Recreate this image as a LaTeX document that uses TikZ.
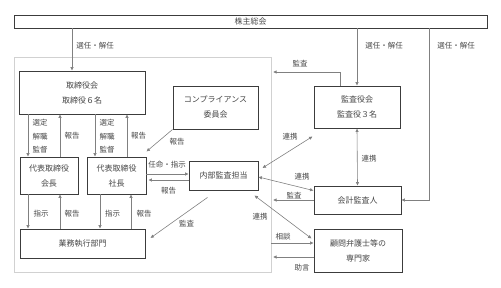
\documentclass[tikz,border=0pt]{standalone}
\usepackage{fontspec}
\newfontfamily\jpfont{Noto Sans CJK JP}
\usepackage{tikz}
\usetikzlibrary{positioning,arrows.meta,calc}
\definecolor{BoxLine}{RGB}{60,60,60}
\definecolor{ArrGray}{RGB}{128,128,128}
\definecolor{TxtGray}{RGB}{70,70,70}
\tikzset{
  org/.style={rectangle, draw=BoxLine, line width=0.9pt, fill=white, align=center,
    text=TxtGray, font=\jpfont\fontsize{8}{15}\selectfont, inner sep=0pt},
  lbl/.style={text=TxtGray, font=\jpfont\fontsize{7.5}{13.5}\selectfont, inner sep=0pt, align=center},
  arrow/.style={-{Latex[length=3.5pt,width=3.5pt]}, line width=0.6pt, draw=ArrGray},
  twoway/.style={{Latex[length=3.5pt,width=3.5pt]}-{Latex[length=3.5pt,width=3.5pt]}, line width=0.6pt, draw=ArrGray}
}

\begin{document}
\begin{tikzpicture}[x=1pt, y=-1pt,
    grpbox/.style={rectangle, draw=black!18, line width=0.6pt, minimum width=257pt,
      minimum height=215pt, inner sep=0pt}
  ]
  \useasboundingbox (0,0) rectangle (501,287);
  \node[grpbox] (grp) at (142.5,164.5) {};

  % boxes
  \node[org, minimum width=473pt, minimum height=13pt] (kabu) at (250.5,21.5) {株主総会};
  \node[org, minimum width=126pt, minimum height=43pt] (tori) at (82,92.5) {取締役会\\取締役６名};
  \node[org, minimum width=85pt, minimum height=43pt] (comp) at (215.5,107.5) {コンプライアンス\\委員会};
  \node[org, minimum width=58pt, minimum height=37pt] (kaicho) at (49,175.5) {代表取締役\\会長};
  \node[org, minimum width=59pt, minimum height=37pt] (shacho) at (116.5,175.5) {代表取締役\\社長};
  \node[org, minimum width=125pt, minimum height=29pt] (gyomu) at (82.5,243.5) {業務執行部門};
  \node[org, minimum width=69pt, minimum height=29pt] (naibu) at (223.5,175.5) {内部監査担当};
  \node[org, minimum width=86pt, minimum height=42pt] (kansa) at (357,107) {監査役会\\監査役３名};
  \node[org, minimum width=87pt, minimum height=28pt] (kaikei) at (357.5,200) {会計監査人};
  \node[org, minimum width=88pt, minimum height=43pt] (komon) at (358,250.5) {顧問弁護士等の\\専門家};

  \coordinate (audtop) at (273,72);
  \coordinate (ask) at ($(komon.west)+(0,-7.5)$);
  \coordinate (advice) at ($(komon.west)+(0,6.5)$);

  % shareholders
  \draw[arrow] ([xshift=-10pt]tori.north |- kabu.south) -- ([xshift=-10pt]tori.north);
  \draw[arrow] (kabu.south -| kansa.north) -- (kansa.north);
  \draw[arrow] ([xshift=72pt]kansa.north |- kabu.south) |- (kaikei.east);
  \node[lbl] at (95,46) {選任・解任};
  \node[lbl] at (384,46) {選任・解任};
  \node[lbl] at (456,46) {選任・解任};

  % board and representatives
  \draw[arrow] ([xshift=-21pt]kaicho.north |- tori.south) -- ([xshift=-21pt]kaicho.north);
  \draw[arrow] ([xshift=11pt]kaicho.north) -- ([xshift=11pt]kaicho.north |- tori.south);
  \draw[arrow] ([xshift=-21.5pt]shacho.north |- tori.south) -- ([xshift=-21.5pt]shacho.north);
  \draw[arrow] ([xshift=10.5pt]shacho.north) -- ([xshift=10.5pt]shacho.north |- tori.south);
  \node[lbl] at (40,136.5) {選定\\解職\\監督};
  \node[lbl] at (72,136) {報告};
  \node[lbl] at (107,136.5) {選定\\解職\\監督};
  \node[lbl] at (138.5,136) {報告};

  % representatives and business units
  \draw[arrow] ([xshift=-21pt]kaicho.south) -- ([xshift=-21pt]kaicho.south |- gyomu.north);
  \draw[arrow] ([xshift=11pt]kaicho.south |- gyomu.north) -- ([xshift=11pt]kaicho.south);
  \draw[arrow] ([xshift=-16.5pt]shacho.south) -- ([xshift=-16.5pt]shacho.south |- gyomu.north);
  \draw[arrow] ([xshift=14.5pt]shacho.south |- gyomu.north) -- ([xshift=14.5pt]shacho.south);
  \node[lbl] at (41,214) {指示};
  \node[lbl] at (72,214) {報告};
  \node[lbl] at (112.5,214) {指示};
  \node[lbl] at (144,214) {報告};

  % compliance and internal audit
  \draw[arrow] (comp.south west) -- ($(shacho.north east)+(0,-5)$);
  \node[lbl] at (177,142) {報告};
  \draw[arrow] ([yshift=1.5pt]shacho.east) -- ([yshift=1.5pt]naibu.west);
  \draw[arrow] ([yshift=-4.5pt]naibu.west) -- ([yshift=-4.5pt,xshift=2pt]shacho.east);
  \node[lbl] at (167,165) {任命・指示};
  \node[lbl] at (168.5,191) {報告};
  \draw[arrow] ($(naibu.south)+(-16,7)$) -- ($(gyomu.east)+(5,-5.5)$);
  \node[lbl] at (186.5,224) {監査};

  % auditors
  \draw[arrow] ([xshift=-17pt]kansa.north) |- (audtop);
  \node[lbl] at (300,64) {監査};
  \draw[twoway] (kansa.south) -- (kaikei.north);
  \node[lbl] at (369,159) {連携};
  \draw[arrow] (kaikei.west) -- (kaikei.west -| audtop);
  \node[lbl] at (294,196) {監査};
  \draw[twoway] ($(naibu.east)+(4,-7.5)$) -- ($(kansa.south west)+(-1,8)$);
  \node[lbl] at (290,137) {連携};
  \draw[twoway] ($(naibu.east)+(0,1.5)$) -- ($(kaikei.north west)+(0,5)$);
  \node[lbl] at (302,177) {連携};
  \draw[twoway] ($(naibu.south east)+(-4,5)$) -- ($(komon.north west)+(-2,10)$);
  \node[lbl] at (260,217) {連携};

  % advisors
  \draw[arrow] (ask -| grp.east) -- (ask);
  \node[lbl] at (283,237) {相談};
  \draw[arrow] (advice) -- (advice -| audtop);
  \node[lbl] at (302,268) {助言};
\end{tikzpicture}
\end{document}
